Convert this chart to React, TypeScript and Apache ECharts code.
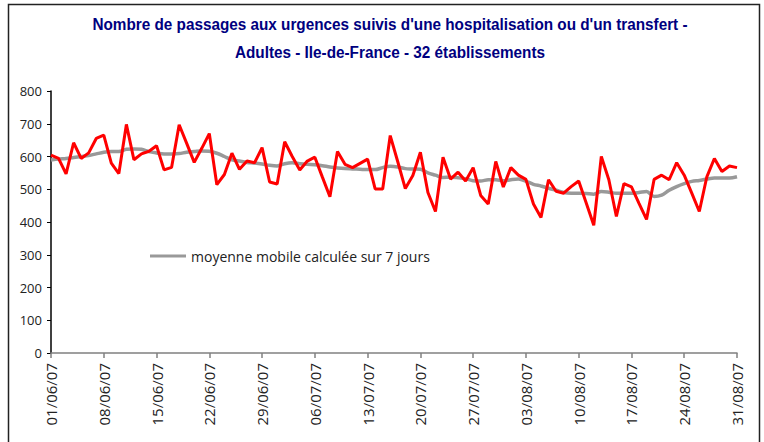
import React, { useEffect, useRef } from "react";
import * as echarts from "echarts";

const titleLines = [
  "Nombre de passages aux urgences suivis d'une hospitalisation ou d'un transfert -",
  "Adultes - Ile-de-France - 32 établissements",
];

const legendName = "moyenne mobile calculée sur 7 jours";

// 01/06/07 .. 31/08/07
function buildDates(): string[] {
  const out: string[] = [];
  const months = [
    { m: "06", days: 30 },
    { m: "07", days: 31 },
    { m: "08", days: 31 },
  ];
  for (const { m, days } of months) {
    for (let d = 1; d <= days; d++) {
      out.push(`${String(d).padStart(2, "0")}/${m}/07`);
    }
  }
  return out;
}
const categories = buildDates();

const dailyValues = [
  604, 594, 547, 642, 594, 611, 655, 665, 580, 548,
  698, 590, 608, 616, 633, 559, 567, 697, 640, 582,
  625, 670, 514, 545, 610, 561, 586, 581, 627, 522,
  516, 645, 600, 559, 586, 598, 537, 477, 615, 576,
  566, 579, 592, 501, 501, 664, 584, 502, 542, 613,
  490, 432, 598, 531, 552, 525, 566, 481, 455, 585,
  507, 566, 543, 530, 455, 414, 529, 494, 488, 508,
  525, 458, 390, 600, 529, 417, 517, 507, 457, 408,
  530, 543, 529, 581, 543, 488, 432, 538, 594, 554,
  571, 566,
];

const movingAverage = [
  589, 592, 594, 597, 600, 603, 608, 613, 615, 615,
  622, 623, 622, 615, 611, 608, 608, 609, 613, 615,
  617, 616, 610, 600, 590, 586, 582, 580, 577, 573,
  571, 578, 581, 578, 576, 575, 572, 568, 565, 563,
  562, 561, 560, 560, 566, 570, 568, 563, 562, 561,
  550, 543, 536, 537, 535, 532, 526, 525, 529, 529,
  526, 529, 531, 525, 515, 510, 503, 497, 490, 488,
  488, 487, 485, 493, 491, 488, 488, 488, 490, 493,
  478, 482, 497, 508, 517, 524, 527, 531, 534, 534,
  534, 538,
];

export default function App() {
  const ref = useRef<HTMLDivElement>(null);
  useEffect(() => {
    if (!ref.current) return;
    const chart = echarts.init(ref.current, null, { renderer: "svg" });
    const labelFont = "'Open Sans', 'DejaVu Sans', sans-serif";
    const titleFont = "bold 17px 'Liberation Sans', Arial, sans-serif";
    chart.setOption({
      animation: false,
      backgroundColor: "#ffffff",
      grid: { left: 51, right: 27, top: 91, bottom: 89, containLabel: false },
      graphic: [
        {
          type: "rect",
          shape: { x: 8.5, y: 4.5, width: 751, height: 460 },
          style: { fill: "none", stroke: "#222", lineWidth: 1.5 },
          silent: true,
        },
        {
          type: "text",
          x: 390,
          y: 24,
          scaleX: 0.9,
          style: {
            text: titleLines[0],
            fill: "#000080",
            font: titleFont,
            textAlign: "center",
            textVerticalAlign: "middle",
          },
        },
        {
          type: "text",
          x: 390,
          y: 52,
          scaleX: 0.9,
          style: {
            text: titleLines[1],
            fill: "#000080",
            font: titleFont,
            textAlign: "center",
            textVerticalAlign: "middle",
          },
        },
      ],
      legend: {
        show: true,
        data: [legendName],
        left: 145,
        top: 244,
        icon: "rect",
        itemWidth: 36,
        itemHeight: 3,
        itemGap: 5,
        textStyle: { fontFamily: labelFont, fontSize: 14, color: "#222" },
      },
      xAxis: {
        type: "category",
        data: categories,
        boundaryGap: false,
        axisLine: { lineStyle: { color: "#808080", width: 1.5 } },
        axisTick: {
          show: true,
          interval: 6,
          length: 5,
          lineStyle: { color: "#808080", width: 1.5 },
        },
        axisLabel: {
          interval: 6,
          rotate: 90,
          margin: 10,
          fontFamily: labelFont,
          fontSize: 15,
          color: "#222",
        },
        splitLine: { show: false },
      },
      yAxis: {
        type: "value",
        min: 0,
        max: 800,
        interval: 100,
        axisLine: { show: true, lineStyle: { color: "#000", width: 1.5 } },
        axisTick: { show: true, length: 4, lineStyle: { color: "#000" } },
        axisLabel: {
          fontFamily: labelFont,
          fontSize: 13,
          color: "#222",
          margin: 9,
        },
        splitLine: { show: false },
      },
      series: [
        {
          name: legendName,
          type: "line",
          data: movingAverage,
          showSymbol: false,
          symbol: "none",
          smooth: 0.3,
          lineStyle: { color: "#999999", width: 3.5 },
          itemStyle: { color: "#999999" },
          z: 2,
        },
        {
          name: "passages",
          type: "line",
          data: dailyValues,
          showSymbol: false,
          symbol: "none",
          lineStyle: { color: "#ff0000", width: 3 },
          itemStyle: { color: "#ff0000" },
          z: 3,
        },
      ],
    });
    return () => chart.dispose();
  }, []);
  return (
    <div
      ref={ref}
      style={{ position: "fixed", left: 0, top: 0, width: 764, height: 442 }}
    />
  );
}
